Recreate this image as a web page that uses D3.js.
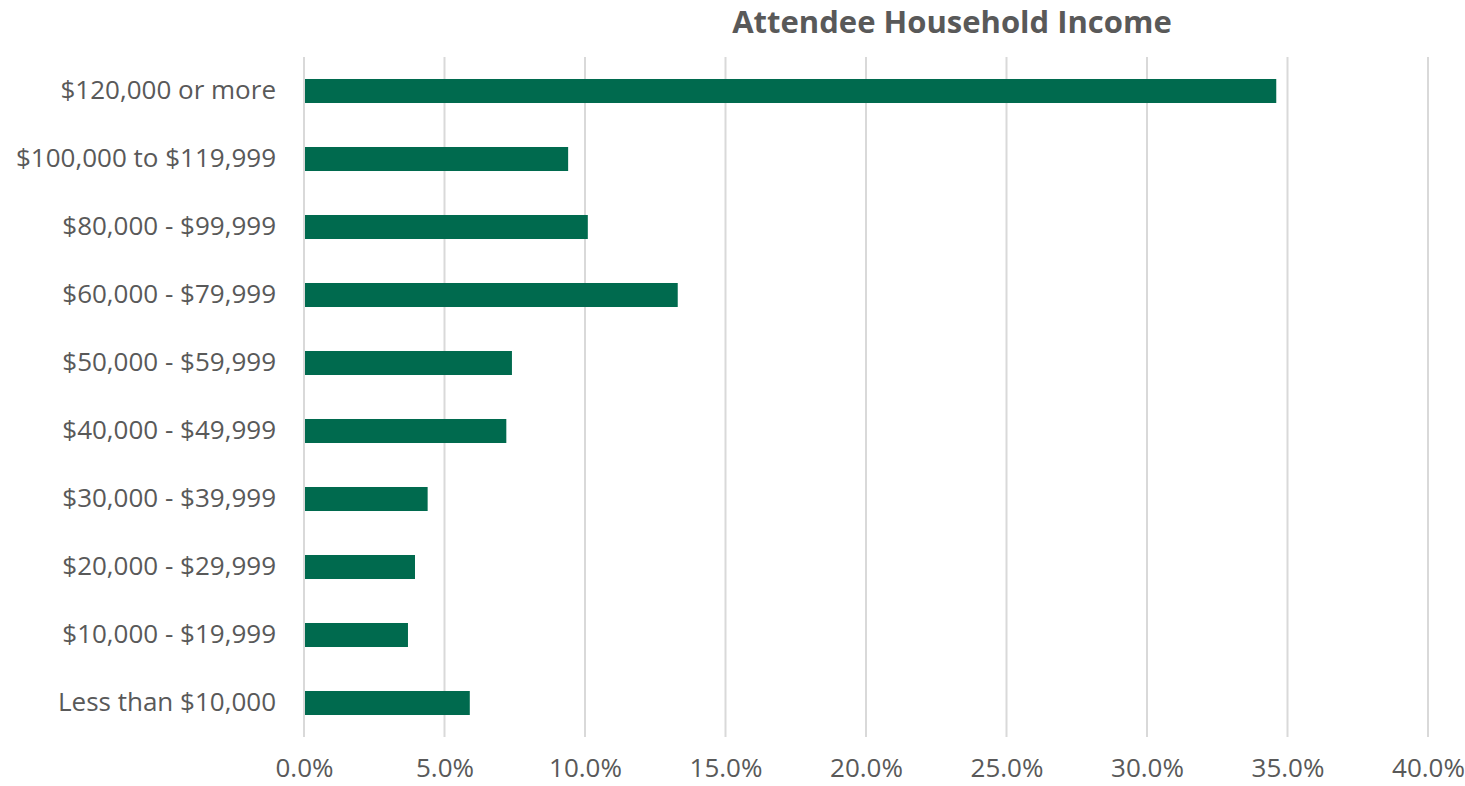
<!DOCTYPE html>
<html><head><meta charset="utf-8">
<script src="https://cdn.jsdelivr.net/npm/d3@7"></script>
<style>body{margin:0;background:#fff}svg{display:block}text{font-family:"Open Sans",sans-serif}</style>
</head><body><svg id="c" width="1465" height="786"></svg>
<script>
const categories = ["$120,000 or more","$100,000 to $119,999","$80,000 - $99,999","$60,000 - $79,999","$50,000 - $59,999","$40,000 - $49,999","$30,000 - $39,999","$20,000 - $29,999","$10,000 - $19,999","Less than $10,000"];
const values = [0.346,0.094,0.101,0.133,0.074,0.072,0.044,0.0395,0.037,0.059];
const ticks = [0,0.05,0.10,0.15,0.20,0.25,0.30,0.35,0.40];
const title = "Attendee Household Income";

const svg = d3.select("#c");
const x = d3.scaleLinear().domain([0,0.4]).range([304,1428]);
const y = d3.scaleBand().domain(categories).range([57,737]).paddingInner(0.647).paddingOuter(0.3235);

svg.append("g").selectAll("line").data(ticks).join("line")
  .attr("x1",d=>x(d)).attr("x2",d=>x(d)).attr("y1",57).attr("y2",737)
  .attr("stroke","#d9d9d9").attr("stroke-width",2);

svg.append("g").selectAll("rect").data(values).join("rect")
  .attr("x",x(0)+1).attr("y",(d,i)=>y(categories[i]))
  .attr("width",d=>x(d)-x(0)-1).attr("height",y.bandwidth())
  .attr("fill","#006a4e");

const xa = d3.axisBottom(x).tickValues(ticks).tickFormat(d3.format(".1%")).tickSize(0).tickPadding(0);
const gx = svg.append("g").attr("transform","translate(0,777)").call(xa);
gx.select(".domain").remove();
gx.selectAll("text").attr("font-size",26).attr("fill","#595959").attr("dy",0).style("font-family","'Open Sans',sans-serif");

const ya = d3.axisLeft(y).tickSize(0).tickPadding(28);
const gy = svg.append("g").attr("transform","translate(304,0)").call(ya);
gy.select(".domain").remove();
gy.selectAll("text").attr("font-size",26).attr("fill","#595959").style("font-family","'Open Sans',sans-serif");

svg.append("text").attr("x",952).attr("y",33).attr("text-anchor","middle")
  .attr("font-size",31).attr("font-weight","bold").attr("fill","#595959").text(title);
</script></body></html>
